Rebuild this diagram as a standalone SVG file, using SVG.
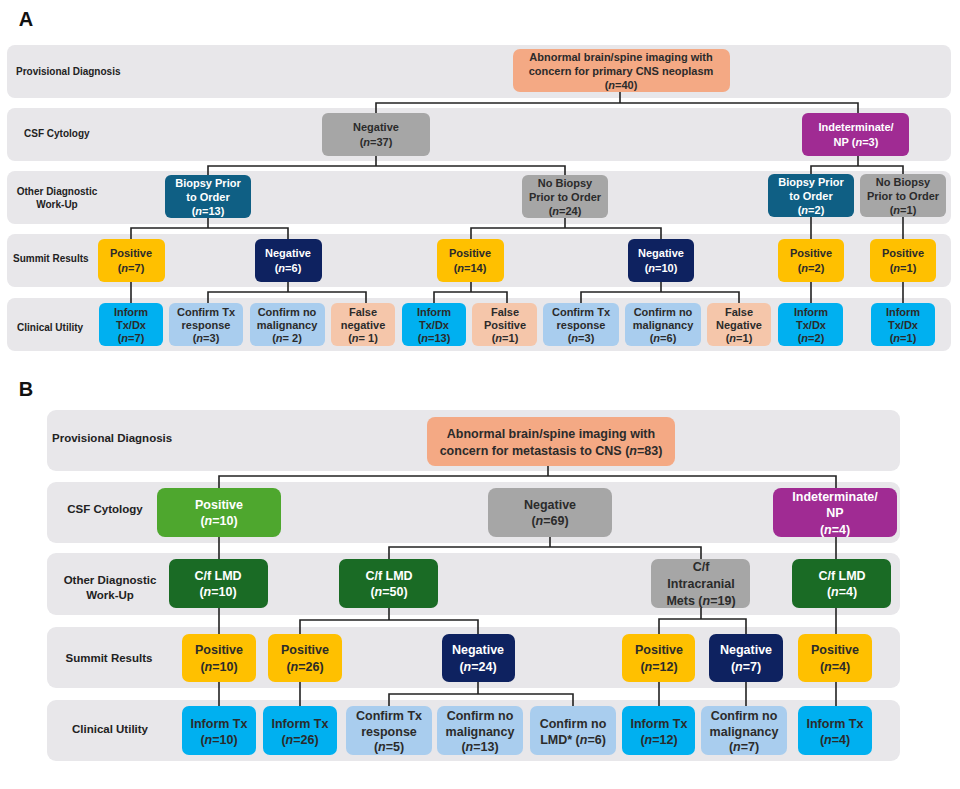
<svg xmlns="http://www.w3.org/2000/svg" width="960" height="789" viewBox="0 0 960 789">
<style>
text{font-family:"Liberation Sans",Arial,sans-serif;font-weight:bold;text-anchor:middle}
.band{fill:#e8e7ea}
.lbl{font-size:10px;fill:#222}
.lblB{font-size:11.5px;fill:#222}
.a{font-size:11px}
.b{font-size:12.5px}
.w{fill:#fff}.d{fill:#2b2b2b}
.or{fill:#f4a984}.gy{fill:#a6a6a6}.pu{fill:#a02b93}.te{fill:#0f5f84}.ye{fill:#ffc000}.nv{fill:#0e2260}
.ib{fill:#00b0f0}.lb{fill:#a9cdee}.pe{fill:#f5c6aa}.gr{fill:#4ea72e}.dg{fill:#1a6b25}
.c path{fill:none;stroke:#222;stroke-width:1.6}
.i{font-style:italic}
</style>
<text x="26" y="26" style="font-size:20px;fill:#111">A</text>
<text x="26" y="396" style="font-size:20px;fill:#111">B</text>
<g id="bandsA">
<rect class="band" x="7" y="45" width="944" height="53" rx="8"/>
<rect class="band" x="7" y="108" width="944" height="53" rx="8"/>
<rect class="band" x="7" y="171" width="944" height="53" rx="8"/>
<rect class="band" x="7" y="234" width="944" height="53" rx="8"/>
<rect class="band" x="7" y="298" width="944" height="53" rx="8"/>
<text class="lbl" x="16" y="75" style="text-anchor:start">Provisional Diagnosis</text>
<text class="lbl" x="24" y="137" style="text-anchor:start">CSF Cytology</text>
<text class="lbl" x="57" y="195">Other Diagnostic</text>
<text class="lbl" x="57" y="208">Work-Up</text>
<text class="lbl" x="13" y="262" style="text-anchor:start">Summit Results</text>
<text class="lbl" x="17" y="331" style="text-anchor:start">Clinical Utility</text>
</g>
<g id="bandsB">
<rect class="band" x="47" y="410" width="853" height="61" rx="9"/>
<rect class="band" x="47" y="482" width="853" height="61" rx="9"/>
<rect class="band" x="47" y="553" width="853" height="62" rx="9"/>
<rect class="band" x="47" y="627" width="853" height="61" rx="9"/>
<rect class="band" x="47" y="700" width="853" height="61" rx="9"/>
<text class="lblB" x="52" y="442" style="text-anchor:start">Provisional Diagnosis</text>
<text class="lblB" x="105" y="513">CSF Cytology</text>
<text class="lblB" x="110" y="584">Other Diagnostic</text>
<text class="lblB" x="110" y="599">Work-Up</text>
<text class="lblB" x="109" y="662">Summit Results</text>
<text class="lblB" x="110" y="733">Clinical Utility</text>
</g>
<g class="c" id="connectors">
<path d="M620 92V103M376 113V103H858V113"/>
<path d="M376 156V166M208 175V166H565V175"/>
<path d="M858 156V166M811 174V166H903V174"/>
<path d="M208 218V228M131 239V228H288V239"/>
<path d="M565 218V228M471 239V228H661V239"/>
<path d="M811 217V239M903 217V239"/>
<path d="M131 282V303M288 282V292M208 303V292H366V303"/>
<path d="M471 282V292M434 303V292H507V303"/>
<path d="M661 282V292M581 303V292H739V303"/>
<path d="M811 282V303M903 282V303"/>
<path d="M548 466V476M219 488V476H836V488"/>
<path d="M219 537V559M836 537V559"/>
<path d="M550 537V547M389 559V547H701V559"/>
<path d="M219 608V634M836 608V634"/>
<path d="M389 608V620M300 634V620H478V634"/>
<path d="M701 608V619M659 634V619H746V634"/>
<path d="M219 682V706M300 682V706M659 682V706M746 682V706M836 682V706"/>
<path d="M478 682V694M389 706V694H573V706"/>
</g>
<g id="A-top"><rect class="or" x="513" y="49" width="217" height="43" rx="7"/><text class="a d" x="621" y="61">Abnormal brain/spine imaging with</text><text class="a d" x="621" y="75">concern for primary CNS neoplasm</text><text class="a d" x="621" y="89">(<tspan class="i">n</tspan>=40)</text></g>
<g id="A-neg37"><rect class="gy" x="322" y="113" width="108" height="43" rx="6"/><text class="a d" x="376" y="131">Negative</text><text class="a d" x="376" y="146">(<tspan class="i">n</tspan>=37)</text></g>
<g id="A-ind3"><rect class="pu" x="802" y="113" width="107" height="43" rx="6"/><text class="a w" x="856" y="131">Indeterminate/</text><text class="a w" x="856" y="146">NP (<tspan class="i">n</tspan>=3)</text></g>
<g id="A-bio13"><rect class="te" x="165" y="175" width="86" height="43" rx="6"/><text class="a w" x="208" y="187">Biopsy Prior</text><text class="a w" x="208" y="201">to Order</text><text class="a w" x="208" y="215">(<tspan class="i">n</tspan>=13)</text></g>
<g id="A-nob24"><rect class="gy" x="522" y="175" width="86" height="43" rx="6"/><text class="a d" x="565" y="187">No Biopsy</text><text class="a d" x="565" y="201">Prior to Order</text><text class="a d" x="565" y="215">(<tspan class="i">n</tspan>=24)</text></g>
<g id="A-bio2"><rect class="te" x="768" y="174" width="86" height="43" rx="6"/><text class="a w" x="811" y="186">Biopsy Prior</text><text class="a w" x="811" y="200">to Order</text><text class="a w" x="811" y="214">(<tspan class="i">n</tspan>=2)</text></g>
<g id="A-nob1"><rect class="gy" x="860" y="174" width="86" height="43" rx="6"/><text class="a d" x="903" y="186">No Biopsy</text><text class="a d" x="903" y="200">Prior to Order</text><text class="a d" x="903" y="214">(<tspan class="i">n</tspan>=1)</text></g>
<g id="A-pos7"><rect class="ye" x="98" y="239" width="67" height="43" rx="6"/><text class="a d" x="131" y="257">Positive</text><text class="a d" x="131" y="272">(<tspan class="i">n</tspan>=7)</text></g>
<g id="A-neg6"><rect class="nv" x="255" y="239" width="67" height="43" rx="6"/><text class="a w" x="288" y="257">Negative</text><text class="a w" x="288" y="272">(<tspan class="i">n</tspan>=6)</text></g>
<g id="A-pos14"><rect class="ye" x="437" y="239" width="67" height="43" rx="6"/><text class="a d" x="470" y="257">Positive</text><text class="a d" x="470" y="272">(<tspan class="i">n</tspan>=14)</text></g>
<g id="A-neg10"><rect class="nv" x="628" y="239" width="66" height="43" rx="6"/><text class="a w" x="661" y="257">Negative</text><text class="a w" x="661" y="272">(<tspan class="i">n</tspan>=10)</text></g>
<g id="A-pos2"><rect class="ye" x="778" y="239" width="66" height="43" rx="6"/><text class="a d" x="811" y="257">Positive</text><text class="a d" x="811" y="272">(<tspan class="i">n</tspan>=2)</text></g>
<g id="A-pos1"><rect class="ye" x="870" y="239" width="66" height="43" rx="6"/><text class="a d" x="903" y="257">Positive</text><text class="a d" x="903" y="272">(<tspan class="i">n</tspan>=1)</text></g>
<g id="A-inf7"><rect class="ib" x="99" y="303" width="64" height="43" rx="6"/><text class="a d" x="131" y="316">Inform</text><text class="a d" x="131" y="329">Tx/Dx</text><text class="a d" x="131" y="342">(<tspan class="i">n</tspan>=7)</text></g>
<g id="A-ctx3"><rect class="lb" x="169" y="303" width="74" height="43" rx="6"/><text class="a d" x="206" y="316">Confirm Tx</text><text class="a d" x="206" y="329">response</text><text class="a d" x="206" y="342">(<tspan class="i">n</tspan>=3)</text></g>
<g id="A-cnm2"><rect class="lb" x="250" y="303" width="75" height="43" rx="6"/><text class="a d" x="287" y="316">Confirm no</text><text class="a d" x="287" y="329">malignancy</text><text class="a d" x="287" y="342">(<tspan class="i">n</tspan>= 2)</text></g>
<g id="A-fn1"><rect class="pe" x="331" y="303" width="64" height="43" rx="6"/><text class="a d" x="363" y="316">False</text><text class="a d" x="363" y="329">negative</text><text class="a d" x="363" y="342">(<tspan class="i">n</tspan>= 1)</text></g>
<g id="A-inf13"><rect class="ib" x="402" y="303" width="64" height="43" rx="6"/><text class="a d" x="434" y="316">Inform</text><text class="a d" x="434" y="329">Tx/Dx</text><text class="a d" x="434" y="342">(<tspan class="i">n</tspan>=13)</text></g>
<g id="A-fp1"><rect class="pe" x="472" y="303" width="65" height="43" rx="6"/><text class="a d" x="505" y="316">False</text><text class="a d" x="505" y="329">Positive</text><text class="a d" x="505" y="342">(<tspan class="i">n</tspan>=1)</text></g>
<g id="A-ctx3b"><rect class="lb" x="543" y="303" width="76" height="43" rx="6"/><text class="a d" x="581" y="316">Confirm Tx</text><text class="a d" x="581" y="329">response</text><text class="a d" x="581" y="342">(<tspan class="i">n</tspan>=3)</text></g>
<g id="A-cnm6"><rect class="lb" x="625" y="303" width="76" height="43" rx="6"/><text class="a d" x="663" y="316">Confirm no</text><text class="a d" x="663" y="329">malignancy</text><text class="a d" x="663" y="342">(<tspan class="i">n</tspan>=6)</text></g>
<g id="A-fn1b"><rect class="pe" x="707" y="303" width="64" height="43" rx="6"/><text class="a d" x="739" y="316">False</text><text class="a d" x="739" y="329">Negative</text><text class="a d" x="739" y="342">(<tspan class="i">n</tspan>=1)</text></g>
<g id="A-inf2"><rect class="ib" x="778" y="303" width="65" height="43" rx="6"/><text class="a d" x="811" y="316">Inform</text><text class="a d" x="811" y="329">Tx/Dx</text><text class="a d" x="811" y="342">(<tspan class="i">n</tspan>=2)</text></g>
<g id="A-inf1"><rect class="ib" x="871" y="303" width="64" height="43" rx="6"/><text class="a d" x="903" y="316">Inform</text><text class="a d" x="903" y="329">Tx/Dx</text><text class="a d" x="903" y="342">(<tspan class="i">n</tspan>=1)</text></g>
<g id="B-top"><rect class="or" x="427" y="417" width="248" height="49" rx="8"/><text class="b d" x="551" y="438">Abnormal brain/spine imaging with</text><text class="b d" x="551" y="455">concern for metastasis to CNS (<tspan class="i">n</tspan>=83)</text></g>
<g id="B-pos10"><rect class="gr" x="157" y="488" width="124" height="49" rx="8"/><text class="b w" x="219" y="509">Positive</text><text class="b w" x="219" y="525">(<tspan class="i">n</tspan>=10)</text></g>
<g id="B-neg69"><rect class="gy" x="488" y="488" width="124" height="49" rx="8"/><text class="b d" x="550" y="509">Negative</text><text class="b d" x="550" y="525">(<tspan class="i">n</tspan>=69)</text></g>
<g id="B-ind4"><rect class="pu" x="773" y="488" width="124" height="49" rx="8"/><text class="b w" x="835" y="501">Indeterminate/</text><text class="b w" x="835" y="517">NP</text><text class="b w" x="835" y="534">(<tspan class="i">n</tspan>=4)</text></g>
<g id="B-lmd10"><rect class="dg" x="169" y="559" width="99" height="49" rx="7"/><text class="b w" x="218" y="580">C/f LMD</text><text class="b w" x="218" y="596">(<tspan class="i">n</tspan>=10)</text></g>
<g id="B-lmd50"><rect class="dg" x="339" y="559" width="99" height="49" rx="7"/><text class="b w" x="389" y="580">C/f LMD</text><text class="b w" x="389" y="596">(<tspan class="i">n</tspan>=50)</text></g>
<g id="B-icm19"><rect class="gy" x="651" y="559" width="99" height="49" rx="7"/><text class="b d" x="701" y="571">C/f</text><text class="b d" x="701" y="588">Intracranial</text><text class="b d" x="701" y="605">Mets (<tspan class="i">n</tspan>=19)</text></g>
<g id="B-lmd4"><rect class="dg" x="792" y="559" width="99" height="49" rx="7"/><text class="b w" x="842" y="580">C/f LMD</text><text class="b w" x="842" y="596">(<tspan class="i">n</tspan>=4)</text></g>
<g id="B-pos10s"><rect class="ye" x="182" y="634" width="74" height="48" rx="7"/><text class="b d" x="219" y="654">Positive</text><text class="b d" x="219" y="671">(<tspan class="i">n</tspan>=10)</text></g>
<g id="B-pos26"><rect class="ye" x="268" y="634" width="74" height="48" rx="7"/><text class="b d" x="305" y="654">Positive</text><text class="b d" x="305" y="671">(<tspan class="i">n</tspan>=26)</text></g>
<g id="B-neg24"><rect class="nv" x="442" y="634" width="73" height="48" rx="7"/><text class="b w" x="478" y="654">Negative</text><text class="b w" x="478" y="671">(<tspan class="i">n</tspan>=24)</text></g>
<g id="B-pos12"><rect class="ye" x="622" y="634" width="73" height="48" rx="7"/><text class="b d" x="659" y="654">Positive</text><text class="b d" x="659" y="671">(<tspan class="i">n</tspan>=12)</text></g>
<g id="B-neg7"><rect class="nv" x="709" y="634" width="74" height="48" rx="7"/><text class="b w" x="746" y="654">Negative</text><text class="b w" x="746" y="671">(<tspan class="i">n</tspan>=7)</text></g>
<g id="B-pos4"><rect class="ye" x="798" y="634" width="74" height="48" rx="7"/><text class="b d" x="835" y="654">Positive</text><text class="b d" x="835" y="671">(<tspan class="i">n</tspan>=4)</text></g>
<g id="B-inf10"><rect class="ib" x="182" y="706" width="74" height="49" rx="7"/><text class="b d" x="219" y="728">Inform Tx</text><text class="b d" x="219" y="744">(<tspan class="i">n</tspan>=10)</text></g>
<g id="B-inf26"><rect class="ib" x="263" y="706" width="74" height="49" rx="7"/><text class="b d" x="300" y="728">Inform Tx</text><text class="b d" x="300" y="744">(<tspan class="i">n</tspan>=26)</text></g>
<g id="B-ctx5"><rect class="lb" x="346" y="706" width="86" height="49" rx="7"/><text class="b d" x="389" y="720">Confirm Tx</text><text class="b d" x="389" y="736">response</text><text class="b d" x="389" y="751">(<tspan class="i">n</tspan>=5)</text></g>
<g id="B-cnm13"><rect class="lb" x="437" y="706" width="86" height="49" rx="7"/><text class="b d" x="480" y="720">Confirm no</text><text class="b d" x="480" y="736">malignancy</text><text class="b d" x="480" y="751">(<tspan class="i">n</tspan>=13)</text></g>
<g id="B-lmd6"><rect class="lb" x="530" y="706" width="86" height="49" rx="7"/><text class="b d" x="573" y="728">Confirm no</text><text class="b d" x="573" y="744">LMD*  (<tspan class="i">n</tspan>=6)</text></g>
<g id="B-inf12"><rect class="ib" x="622" y="706" width="73" height="49" rx="7"/><text class="b d" x="659" y="728">Inform Tx</text><text class="b d" x="659" y="744">(<tspan class="i">n</tspan>=12)</text></g>
<g id="B-cnm7"><rect class="lb" x="701" y="706" width="86" height="49" rx="7"/><text class="b d" x="744" y="720">Confirm no</text><text class="b d" x="744" y="736">malignancy</text><text class="b d" x="744" y="751">(<tspan class="i">n</tspan>=7)</text></g>
<g id="B-inf4"><rect class="ib" x="798" y="706" width="74" height="49" rx="7"/><text class="b d" x="835" y="728">Inform Tx</text><text class="b d" x="835" y="744">(<tspan class="i">n</tspan>=4)</text></g>
</svg>
